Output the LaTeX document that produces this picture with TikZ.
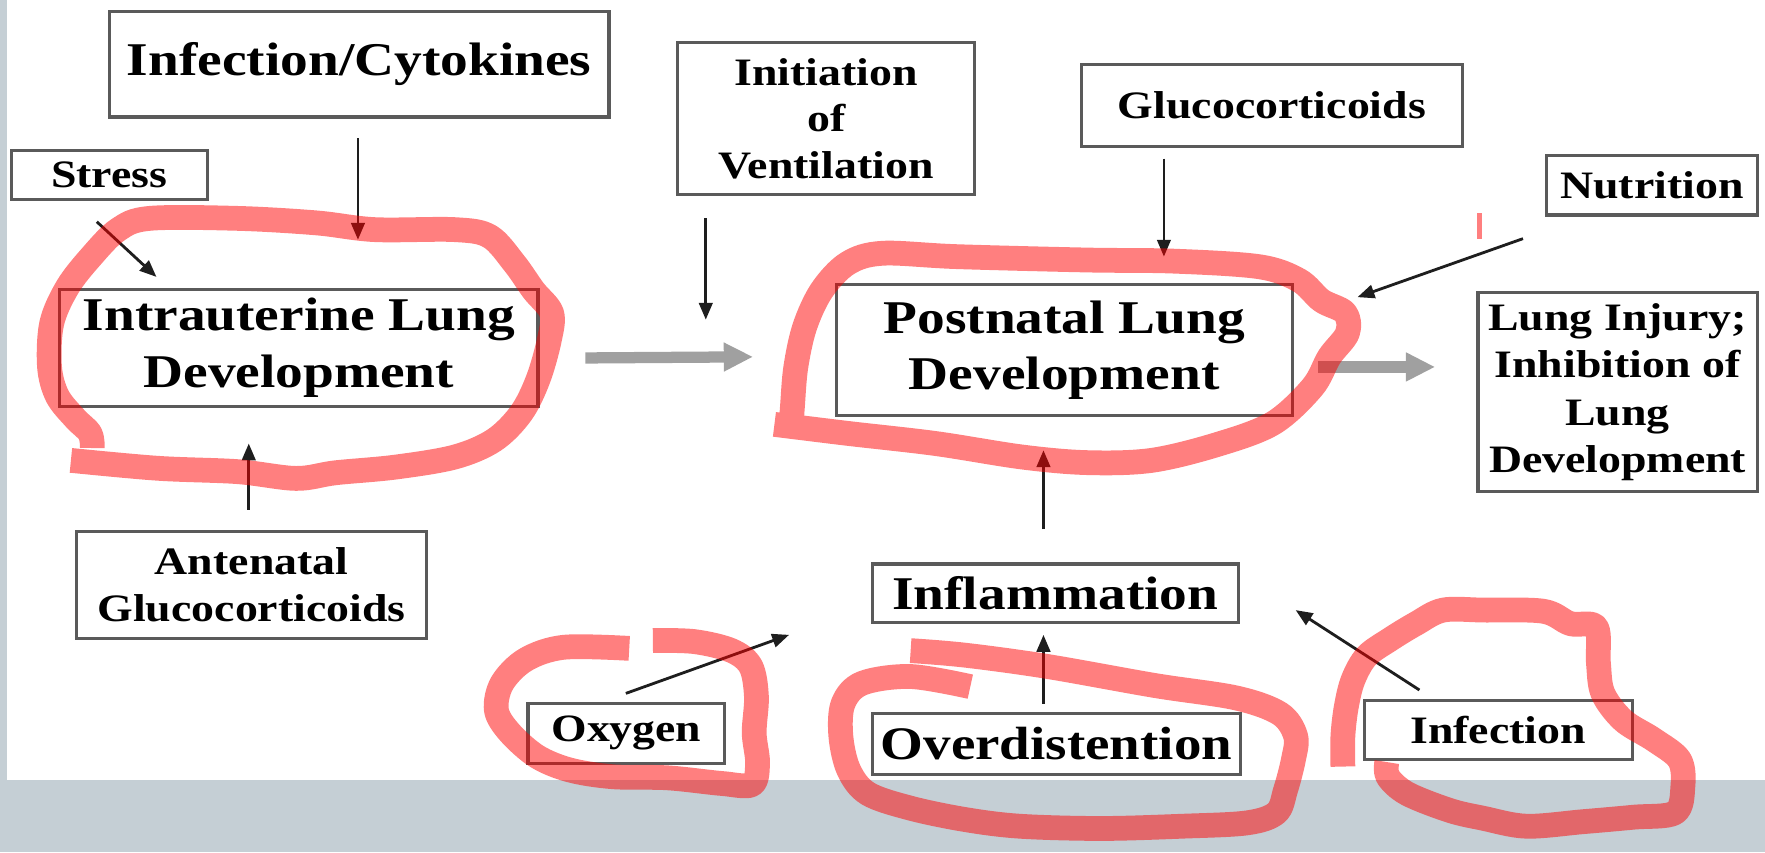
\documentclass[tikz,border=0pt]{standalone}
\usepackage{fontspec}
\setmainfont{Liberation Serif}[FakeStretch=1.18]
\usetikzlibrary{arrows.meta}
\definecolor{bandgray}{RGB}{197,207,213}
\definecolor{boxline}{RGB}{90,90,90}
\definecolor{arrowdark}{RGB}{30,30,30}
\definecolor{thickgray}{RGB}{160,160,160}
\begin{document}
\begin{tikzpicture}[x=1pt,y=-1pt,
  box/.style={draw=boxline, line width=2.8pt, fill=white, inner sep=0pt, align=center, text=black},
  bigtxt/.style={font=\fontsize{41.7}{50}\selectfont\bfseries},
  smalltxt/.style={font=\fontsize{34.5}{41.5}\selectfont\bfseries},
  arr/.style={draw=arrowdark, line width=2.5pt, -{Triangle[length=15pt,width=12pt]}},
  garr/.style={draw=thickgray, line width=10pt, -{Triangle[length=26pt,width=24pt]}},
  redmark/.style={draw=red, line width=22pt, opacity=0.5, line cap=butt, line join=round}]

\useasboundingbox (0,0) rectangle (1568,757);
\fill[white] (0,0) rectangle (1568,757);
\fill[bandgray] (0,693) rectangle (1568,757);
\fill[bandgray] (0,0) rectangle (6,693);

% boxes
\node[box, bigtxt, minimum width=444pt, minimum height=94pt] (infcyt) at (319,57) {Infection/Cytokines};
\node[box, smalltxt, minimum width=174pt, minimum height=43pt] (stress) at (97,155.5) {Stress};
\node[box, bigtxt, minimum width=425pt, minimum height=104pt] (intra) at (265.5,309) {Intrauterine Lung\\Development};
\node[box, smalltxt, minimum width=311pt, minimum height=95pt] (ante) at (223.5,519.5) {Antenatal\\Glucocorticoids};
\node[box, smalltxt, minimum width=264pt, minimum height=135pt] (init) at (734,105.5) {Initiation\\of\\Ventilation};
\node[box, smalltxt, minimum width=338pt, minimum height=73pt] (gluco) at (1130,93.5) {Glucocorticoids};
\node[box, smalltxt, minimum width=187pt, minimum height=53pt] (nutr) at (1467.5,164.5) {Nutrition};
\node[box, bigtxt, minimum width=405pt, minimum height=116pt] (post) at (945.5,311) {Postnatal Lung\\Development};
\node[box, font=\fontsize{34.5}{42}\selectfont\bfseries, minimum width=248pt, minimum height=177pt] (injury) at (1437,348.5) {Lung Injury;\\Inhibition of\\Lung\\Development};
\node[box, bigtxt, minimum width=325pt, minimum height=52pt] (infl) at (937.5,527) {Inflammation};
\node[box, font=\fontsize{34.4}{40}\selectfont\bfseries, minimum width=175pt, minimum height=53pt] (oxy) at (556.5,651.5) {Oxygen};
\node[box, font=\fontsize{41.4}{50}\selectfont\bfseries, minimum width=327pt, minimum height=54pt] (overd) at (938.5,661) {Overdistention};
\node[box, smalltxt, minimum width=238pt, minimum height=53pt] (infect) at (1331,648.5) {Infection};

% arrow end points
\coordinate (a1s) at (318,123);  \coordinate (a1e) at (318,213);
\coordinate (a2s) at (86,197);   \coordinate (a2e) at (139,246);
\coordinate (a3s) at (221,453);  \coordinate (a3e) at (221,394);
\coordinate (g1s) at (520,318);  \coordinate (g1e) at (669,317);
\coordinate (a4s) at (627,194);  \coordinate (a4e) at (627,284);
\coordinate (a5s) at (1034,141); \coordinate (a5e) at (1034,228);
\coordinate (a6s) at (1353,212); \coordinate (a6e) at (1206,264);
\coordinate (g2s) at (1171,326); \coordinate (g2e) at (1275,326);
\coordinate (a7s) at (927,470);  \coordinate (a7e) at (927,400);
\coordinate (a8s) at (556,616);  \coordinate (a8e) at (701,564);
\coordinate (a9s) at (927,625);  \coordinate (a9e) at (927,564);
\coordinate (a10s) at (1261,613); \coordinate (a10e) at (1151,542);

\draw[arr] (a1s) -- (a1e);
\draw[arr] (a2s) -- (a2e);
\draw[arr] (a3s) -- (a3e);
\draw[garr] (g1s) -- (g1e);
\draw[arr] (a4s) -- (a4e);
\draw[arr] (a5s) -- (a5e);
\draw[arr] (a6s) -- (a6e);
\draw[garr] (g2s) -- (g2e);
\draw[arr] (a7s) -- (a7e);
\draw[arr] (a8s) -- (a8e);
\draw[arr] (a9s) -- (a9e);
\draw[arr] (a10s) -- (a10e);

% red hand-drawn marks
\draw[redmark] plot[smooth, tension=0.55] coordinates {
 (63,409) (140,416) (211,419) (263,425) (298,420) (351,415) (404,406) (439,391)
 (463,367) (478,337) (488,302) (490,278) (474,258) (457,234) (435,210) (404,204)
 (333,204) (281,198) (211,194) (133,194) (105,204) (81,228) (60,255) (46,287)
 (44,326) (51,352) (67,372) (80,385) (82,398)};
\draw[redmark] plot[smooth, tension=0.55] coordinates {
 (688,377) (753,385) (831,394) (908,406) (966,411) (1023,409) (1081,395) (1131,376)
 (1166,344) (1181,317) (1197,296) (1195,278) (1174,267) (1154,249) (1119,237)
 (1043,232) (966,231) (850,228) (784,225) (753,234) (730,258) (715,290) (707,326)
 (704,361) (703,376)};
\draw[redmark] plot[smooth, tension=0.55] coordinates {
 (580,569) (617,570) (650,578) (667,592) (672,619) (670,651) (673,678) (668,697)
 (641,696) (593,691) (544,690) (506,684) (477,672) (453,651) (441,631) (446,607)
 (467,586) (501,575) (559,576)};
\draw[redmark] plot[smooth, tension=0.55] coordinates {
 (809,578) (857,582) (930,592) (1026,609) (1098,620) (1137,634) (1151,654) (1149,675)
 (1142,702) (1134,722) (1108,731) (1050,734) (978,736) (906,734) (857,728) (809,718)
 (771,705) (754,684) (747,654) (749,625) (766,607) (809,601) (862,610)};
\draw[redmark] plot[smooth, tension=0.55] coordinates {
 (1193,681) (1193,654) (1196,628) (1202,604) (1214,583) (1235,568) (1258,554)
 (1282,542) (1318,542) (1371,543) (1395,554) (1418,557) (1420,589) (1424,616)
 (1442,640) (1469,657) (1492,675) (1495,699) (1488,722) (1451,726) (1406,730)
 (1356,734) (1318,727) (1288,720) (1250,705) (1233,690) (1232,677)};
\fill[red, opacity=0.5] (1312,189) rectangle (1317,212);
\end{tikzpicture}
\end{document}
